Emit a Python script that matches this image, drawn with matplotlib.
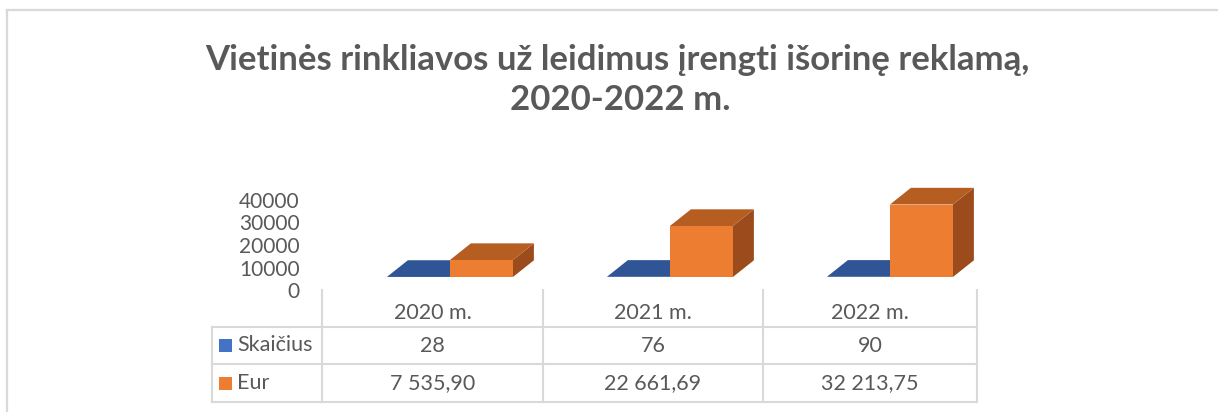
import matplotlib
matplotlib.use("Agg")
import matplotlib.pyplot as plt
from matplotlib.patches import Polygon, Rectangle
from matplotlib.lines import Line2D
from matplotlib.transforms import ScaledTranslation

# Duomenys
metai = ["2020 m.", "2021 m.", "2022 m."]
skaicius = [28, 76, 90]
eur = [7535.90, 22661.69, 32213.75]
serijos = ["Skaičius", "Eur"]
y_zymes = [0, 10000, 20000, 30000, 40000]

W, H = 1218, 412
PILKA = "#595959"
LINIJA = "#d9d9d9"
MELYNA = "#4472C4"
MELYNA_VIRSUS = "#2F5597"
ORANZ = "#ED7D31"
ORANZ_VIRSUS = "#B65D22"
ORANZ_SONAS = "#9C4C1C"

plt.rcParams['font.family'] = ['Lato', 'DejaVu Sans']


def fx(x):
    return x / W


def fy(y):
    return 1 - y / H


def eur_tekstas(v):
    return f"{v:,.2f}".replace(",", " ").replace(".", ",")


fig = plt.figure(figsize=(W / 100, H / 100), dpi=100)

# remelis
fig.add_artist(Line2D([fx(7), fx(7)], [fy(10), fy(H)], color=LINIJA, lw=1.6, transform=fig.transFigure))
fig.add_artist(Line2D([fx(7), fx(W)], [fy(10), fy(10)], color=LINIJA, lw=1.6, transform=fig.transFigure))

fig.text(fx(617), fy(60), "Vietinės rinkliavos už leidimus įrengti išorinę reklamą,",
         ha="center", va="center", fontsize=25, fontweight="bold", color=PILKA)
fig.text(fx(620), fy(100), "2020-2022 m.",
         ha="center", va="center", fontsize=25, fontweight="bold", color=PILKA)

# diagramos sritis: x nuo -0.5 iki 2.5, y nuo 0 iki 40000
x0, x1 = 322, 982
ybot, ytop = 277, 187
ax = fig.add_axes([fx(x0), fy(ybot), fx(x1) - fx(x0), fy(ytop) - fy(ybot)])
ax.set_xlim(-0.5, 2.5)
ax.set_ylim(0, 40000)

px_x = (x1 - x0) / 3.0
px_y = (ybot - ytop) / 40000.0
gylis_x = 21 / px_x
gylis_y = 16.7 / px_y
plotis = 63 / px_x
poslinkis = -0.205

for i in range(len(metai)):
    # melynas (beveik plokscias)
    xb = i + poslinkis
    hb = skaicius[i]
    ax.add_patch(Polygon([(xb, hb), (xb + plotis, hb), (xb + plotis + gylis_x, hb + gylis_y),
                          (xb + gylis_x, hb + gylis_y)], closed=True, facecolor=MELYNA_VIRSUS,
                         edgecolor="none", clip_on=False))
    ax.bar(xb, hb, width=plotis, align="edge", color=MELYNA, clip_on=False)
    # oranzinis
    xo = xb + plotis
    ho = eur[i]
    ax.add_patch(Polygon([(xo + plotis, 0), (xo + plotis + gylis_x, gylis_y),
                          (xo + plotis + gylis_x, ho + gylis_y), (xo + plotis, ho)], closed=True,
                         facecolor=ORANZ_SONAS, edgecolor="none", clip_on=False))
    ax.add_patch(Polygon([(xo, ho), (xo + plotis, ho), (xo + plotis + gylis_x, ho + gylis_y),
                          (xo + gylis_x, ho + gylis_y)], closed=True, facecolor=ORANZ_VIRSUS,
                         edgecolor="none", clip_on=False))
    ax.bar(xo, ho, width=plotis, align="edge", color=ORANZ, clip_on=False)

ax.set_yticks(y_zymes)
ax.set_yticklabels([str(v) for v in y_zymes], fontsize=15, color=PILKA)
ax.tick_params(axis="y", length=0, pad=16)
ax.set_xticks([])
for lbl in ax.get_yticklabels():
    lbl.set_transform(lbl.get_transform() + ScaledTranslation(0, -13 / 100, fig.dpi_scale_trans))
for s in ax.spines.values():
    s.set_visible(False)
ax.patch.set_visible(False)

# duomenu lentele
kol = [322, 543, 763, 977]
eil = [326.7, 364, 402]
for x in kol:
    fig.add_artist(Line2D([fx(x), fx(x)], [fy(290), fy(402)], color=LINIJA, lw=1.5, transform=fig.transFigure))
fig.add_artist(Line2D([fx(212), fx(212)], [fy(eil[0]), fy(eil[-1])], color=LINIJA, lw=1.5, transform=fig.transFigure))
for y in eil:
    fig.add_artist(Line2D([fx(212), fx(977)], [fy(y), fy(y)], color=LINIJA, lw=1.5, transform=fig.transFigure))

for j, m in enumerate(metai):
    cx = (kol[j] + kol[j + 1]) / 2
    fig.text(fx(cx), fy(313), m, ha="center", va="center", fontsize=15.5, color=PILKA)
    fig.text(fx(cx), fy(345.5), str(skaicius[j]), ha="center", va="center", fontsize=15.5, color=PILKA)
    fig.text(fx(cx), fy(383), eur_tekstas(eur[j]), ha="center", va="center", fontsize=15.5, color=PILKA)

for r, (pav, sp) in enumerate(zip(serijos, [MELYNA, ORANZ])):
    yc = (eil[r] + eil[r + 1]) / 2
    fig.add_artist(Rectangle((fx(219), fy(yc + 6.5)), fx(13), 13 / H, facecolor=sp,
                             edgecolor="none", transform=fig.transFigure))
    fig.text(fx(237), fy(yc), pav, ha="left", va="center", fontsize=15.5, color=PILKA)

fig.savefig("out.png", dpi=100)
